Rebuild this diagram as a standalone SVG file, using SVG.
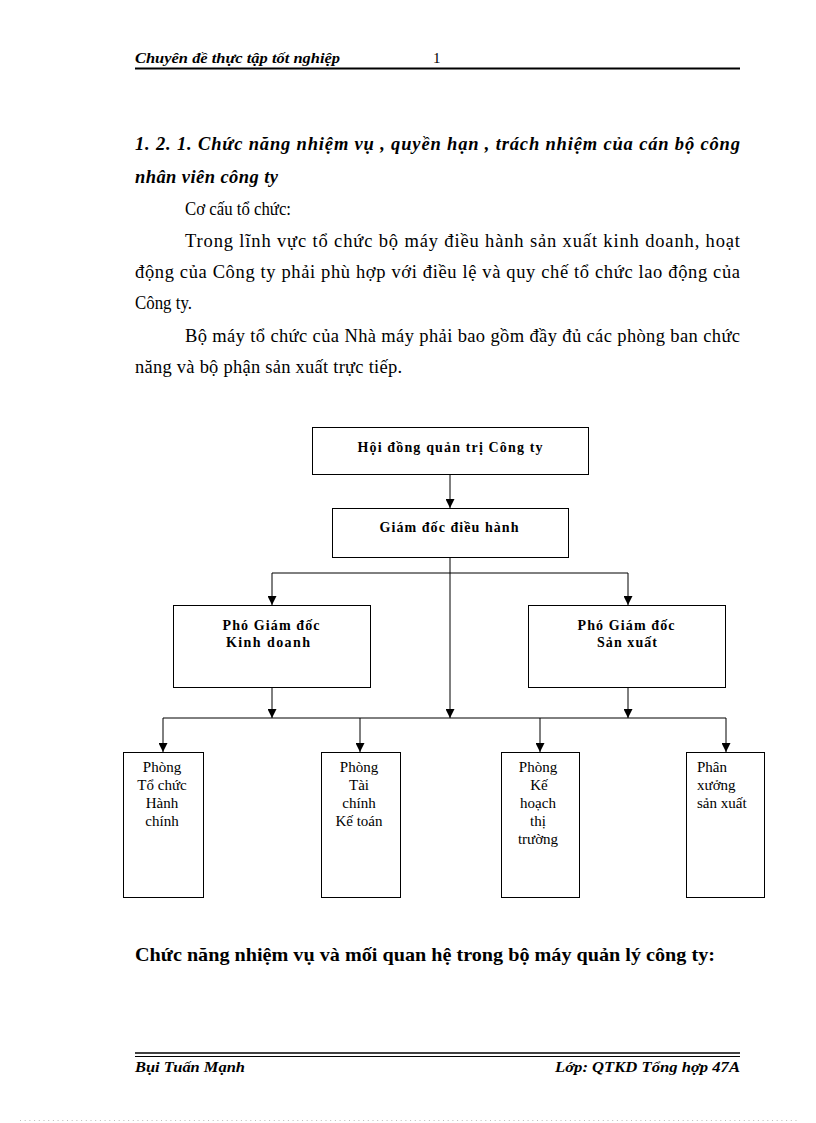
<svg xmlns="http://www.w3.org/2000/svg" width="816" height="1123" viewBox="0 0 816 1123">
<style>
.pg{font-family:"Liberation Serif","Times New Roman",serif;fill:#000}
.hdr{font-size:15px;font-style:italic;font-weight:bold}
.body{font-size:18.5px}
.h1{font-size:18.5px;font-style:italic;font-weight:bold}
.h2{font-size:19px;font-weight:bold}
.nb{font-family:"Liberation Serif","Times New Roman",serif;font-size:14px;font-weight:bold;text-anchor:middle;fill:#000}
.nr{font-family:"Liberation Serif","Times New Roman",serif;font-size:15px;fill:#000}
.box{fill:#fff;stroke:#000;stroke-width:1}
.cn{stroke:#000;stroke-width:1;fill:none}
</style>
<defs>
<marker id="ah" viewBox="0 0 10 10" refX="10" refY="5" markerWidth="9" markerHeight="9" markerUnits="userSpaceOnUse" orient="auto">
<path d="M0,0 L10,5 L0,10 Z" fill="#000"/>
</marker>
</defs>
<rect width="816" height="1123" fill="#fff"/>
<g id="header">
<text class="pg hdr" x="135" y="63" textLength="205" lengthAdjust="spacingAndGlyphs">Chuyên đề thực tập tốt nghiệp</text>
<text class="pg" x="433" y="63" font-size="15">1</text>
<line x1="135" y1="68.5" x2="740" y2="68.5" stroke="#000" stroke-width="2"/>
</g>
<g id="text">
<text class="pg h1" x="135" y="150" textLength="605" lengthAdjust="spacing">1. 2. 1. Chức năng nhiệm vụ , quyền hạn , trách nhiệm của cán bộ công</text>
<text class="pg h1" x="135" y="183" textLength="143" lengthAdjust="spacing">nhân viên công ty</text>
<text class="pg body" x="185" y="215" textLength="106" lengthAdjust="spacingAndGlyphs">Cơ cấu tổ chức:</text>
<text class="pg body" x="185" y="247" textLength="555" lengthAdjust="spacing">Trong lĩnh vực tổ chức bộ máy điều hành sản xuất kinh doanh, hoạt</text>
<text class="pg body" x="135" y="278" textLength="605" lengthAdjust="spacing">động của Công ty phải phù hợp với điều lệ và quy chế tổ chức lao động của</text>
<text class="pg body" x="135" y="309" textLength="57" lengthAdjust="spacingAndGlyphs">Công ty.</text>
<text class="pg body" x="185" y="342" textLength="555" lengthAdjust="spacing">Bộ máy tổ chức của Nhà máy phải bao gồm đầy đủ các phòng ban chức</text>
<text class="pg body" x="135" y="373" textLength="267" lengthAdjust="spacing">năng và bộ phận sản xuất trực tiếp.</text>
<text class="pg h2" x="135" y="961" textLength="580" lengthAdjust="spacingAndGlyphs">Chức năng nhiệm vụ và mối quan hệ trong bộ máy quản lý công ty:</text>
</g>
<g id="connectors">
<line class="cn" x1="450" y1="474" x2="450" y2="508" marker-end="url(#ah)"/>
<line class="cn" x1="450" y1="557" x2="450" y2="718" marker-end="url(#ah)"/>
<line class="cn" x1="272" y1="573" x2="628" y2="573"/>
<line class="cn" x1="272" y1="573" x2="272" y2="605" marker-end="url(#ah)"/>
<line class="cn" x1="628" y1="573" x2="628" y2="605" marker-end="url(#ah)"/>
<line class="cn" x1="272" y1="687" x2="272" y2="718" marker-end="url(#ah)"/>
<line class="cn" x1="628" y1="687" x2="628" y2="718" marker-end="url(#ah)"/>
<line class="cn" x1="163" y1="718" x2="726" y2="718"/>
<line class="cn" x1="163" y1="718" x2="163" y2="752" marker-end="url(#ah)"/>
<line class="cn" x1="360" y1="718" x2="360" y2="752" marker-end="url(#ah)"/>
<line class="cn" x1="540" y1="718" x2="540" y2="752" marker-end="url(#ah)"/>
<line class="cn" x1="726" y1="718" x2="726" y2="752" marker-end="url(#ah)"/>
</g>
<g id="hdqt">
<rect class="box" x="312.5" y="427.5" width="276" height="47"/>
<text class="nb" x="450" y="452" textLength="185" lengthAdjust="spacing">Hội đồng quản trị Công ty</text>
</g>
<g id="gd">
<rect class="box" x="332.5" y="508.5" width="236" height="49"/>
<text class="nb" x="449" y="532" textLength="139" lengthAdjust="spacing">Giám đốc điều hành</text>
</g>
<g id="pgd-kd">
<rect class="box" x="173.5" y="605.5" width="197" height="82"/>
<text class="nb" x="271" y="630" textLength="97" lengthAdjust="spacing">Phó Giám đốc</text>
<text class="nb" x="268" y="647" textLength="84" lengthAdjust="spacing">Kinh doanh</text>
</g>
<g id="pgd-sx">
<rect class="box" x="528.5" y="605.5" width="197" height="82"/>
<text class="nb" x="626" y="630" textLength="97" lengthAdjust="spacing">Phó Giám đốc</text>
<text class="nb" x="627" y="647" textLength="60" lengthAdjust="spacing">Sản xuất</text>
</g>
<g id="p-tchc">
<rect class="box" x="123.5" y="752.5" width="80" height="145"/>
<text class="nr" text-anchor="middle" x="162" y="772">Phòng</text>
<text class="nr" text-anchor="middle" x="162" y="790">Tổ chức</text>
<text class="nr" text-anchor="middle" x="162" y="808">Hành</text>
<text class="nr" text-anchor="middle" x="162" y="826">chính</text>
</g>
<g id="p-tckt">
<rect class="box" x="321.5" y="752.5" width="79" height="145"/>
<text class="nr" text-anchor="middle" x="359" y="772">Phòng</text>
<text class="nr" text-anchor="middle" x="359" y="790">Tài</text>
<text class="nr" text-anchor="middle" x="359" y="808">chính</text>
<text class="nr" text-anchor="middle" x="359" y="826">Kế toán</text>
</g>
<g id="p-khtt">
<rect class="box" x="501.5" y="752.5" width="78" height="145"/>
<text class="nr" text-anchor="middle" x="538" y="772">Phòng</text>
<text class="nr" text-anchor="middle" x="539" y="790">Kế</text>
<text class="nr" text-anchor="middle" x="538" y="808">hoạch</text>
<text class="nr" text-anchor="middle" x="538" y="826">thị</text>
<text class="nr" text-anchor="middle" x="538" y="844">trường</text>
</g>
<g id="px-sx">
<rect class="box" x="686.5" y="752.5" width="78" height="145"/>
<text class="nr" x="697" y="772">Phân</text>
<text class="nr" x="697" y="790">xưởng</text>
<text class="nr" x="697" y="808">sản xuất</text>
</g>
<g id="footer">
<line x1="135" y1="1053" x2="740" y2="1053" stroke="#000" stroke-width="1.5"/>
<line x1="135" y1="1056.5" x2="740" y2="1056.5" stroke="#000" stroke-width="1"/>
<text class="pg hdr" x="135" y="1072" textLength="110" lengthAdjust="spacingAndGlyphs">Bụi Tuấn Mạnh</text>
<text class="pg hdr" x="555" y="1072" textLength="185" lengthAdjust="spacingAndGlyphs">Lớp: QTKD Tổng hợp 47A</text>
<line x1="20" y1="1120.5" x2="798" y2="1120.5" stroke="#bbb" stroke-width="1" stroke-dasharray="1 3.7"/>
</g>
</svg>
